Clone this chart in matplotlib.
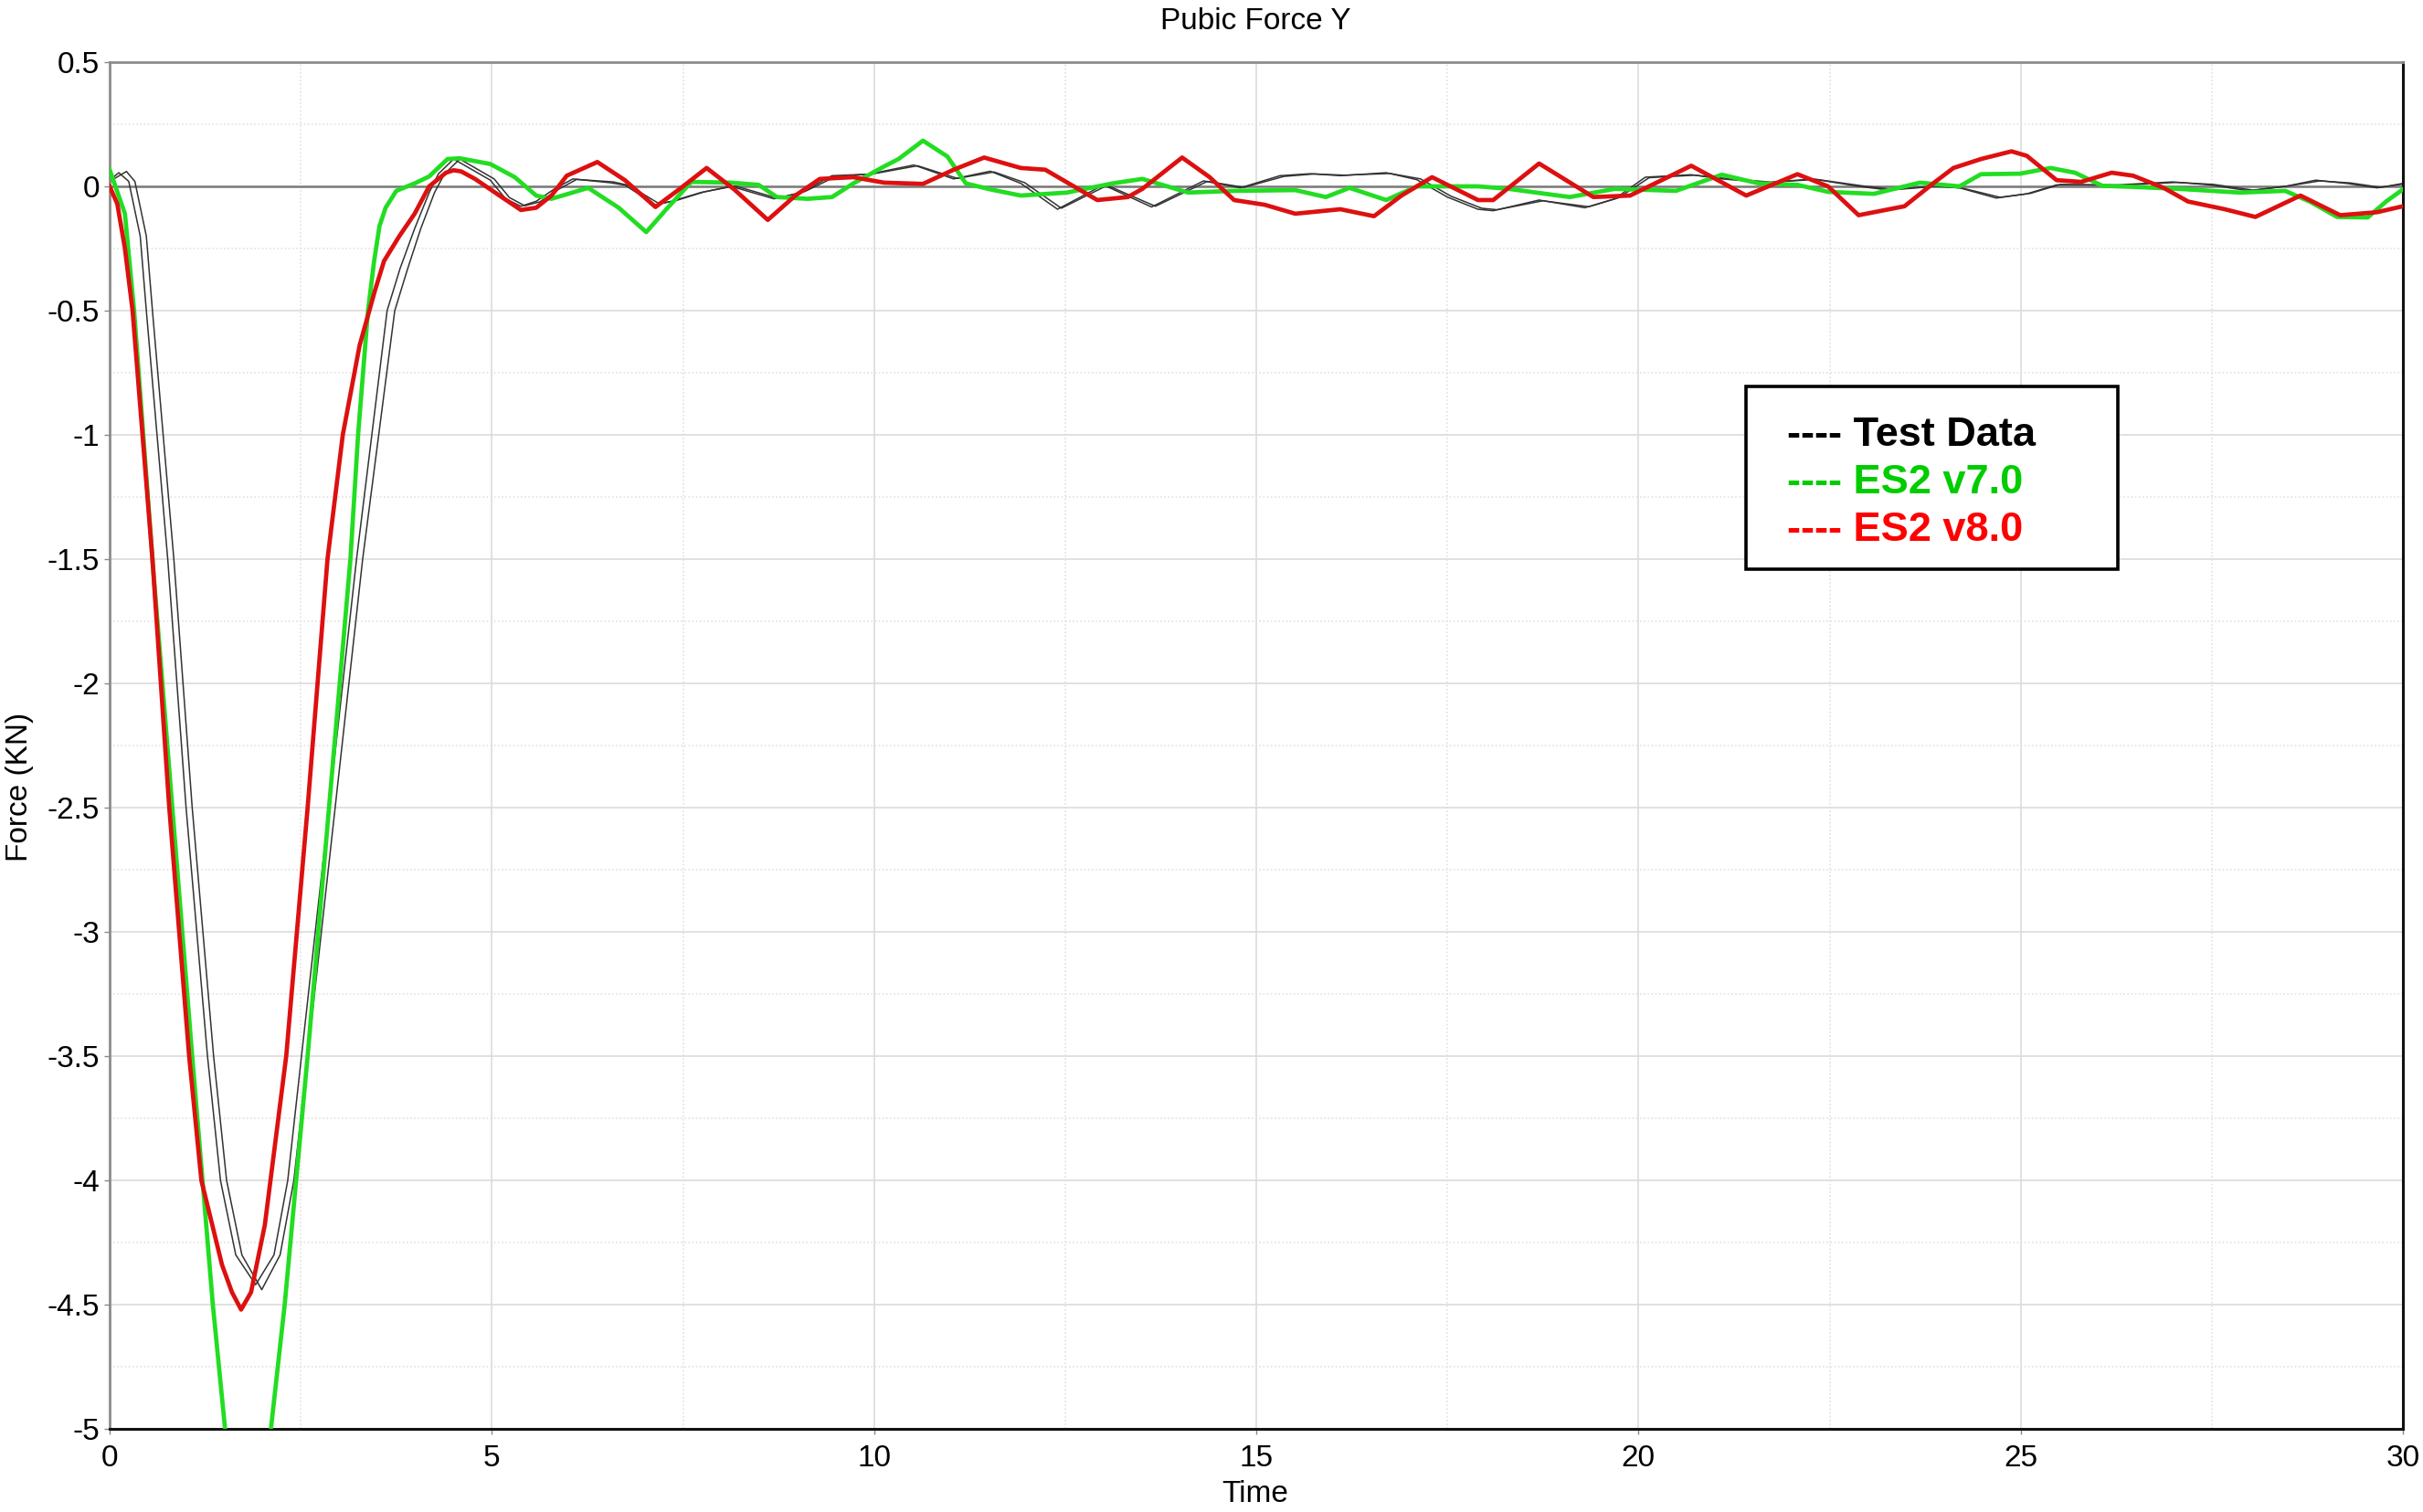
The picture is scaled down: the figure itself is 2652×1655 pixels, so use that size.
import matplotlib
matplotlib.use("Agg")
import matplotlib.pyplot as plt
from matplotlib.patches import Rectangle

plt.rcParams['font.family'] = ['Liberation Sans', 'DejaVu Sans']

# ---------------- data ----------------
test1_time = [0, 0.12, 0.25, 0.4, 0.48, 0.76, 1.0, 1.28, 1.45, 1.65, 1.91, 2.15, 2.33, 2.51,
              2.87, 3.23, 3.63, 3.8, 3.99, 4.18, 4.3, 4.5, 4.98, 5.18, 5.38, 5.58, 5.82, 6.06,
              6.54, 6.74, 7.14, 7.35, 7.73, 8.13, 8.69, 9.05, 9.45, 9.93, 10.52, 11.04, 11.52,
              11.92, 12.4, 13.0, 13.63, 14.31, 14.79, 15.31, 15.71, 16.1, 16.7, 17.1, 17.5,
              17.9, 18.1, 18.7, 19.3, 19.69, 20.09, 20.69, 21.09, 21.69, 22.28, 22.88, 23.28,
              23.88, 24.2, 24.68, 25.08, 25.47, 26.27, 26.99, 27.47, 27.99, 28.46, 28.86,
              29.26, 29.66, 30.0]
test1_force = [0.025, 0.055, 0.02, -0.2, -0.5, -1.5, -2.5, -3.5, -4.0, -4.3, -4.42, -4.3, -4.0,
               -3.5, -2.5, -1.5, -0.5, -0.33, -0.17, -0.025, 0.05, 0.11, 0.025, -0.05, -0.08,
               -0.06, -0.01, 0.03, 0.015, 0.005, -0.074, -0.06, -0.025, 0.0, -0.05, -0.025,
               0.043, 0.049, 0.086, 0.03, 0.061, 0.012, -0.092, 0.006, -0.083, 0.022, -0.006,
               0.043, 0.051, 0.043, 0.055, 0.027, -0.043, -0.092, -0.098, -0.055, -0.086,
               -0.05, 0.037, 0.047, 0.03, 0.015, 0.03, 0.0, -0.015, 0.0, -0.006, -0.047,
               -0.03, 0.006, 0.006, 0.018, 0.006, -0.018, 0.0, 0.025, 0.012, -0.006, 0.009]

test2_time = [0, 0.22, 0.33, 0.48, 0.56, 0.84, 1.08, 1.36, 1.53, 1.73, 1.99, 2.23, 2.41, 2.59,
              2.95, 3.31, 3.73, 3.9, 4.07, 4.25, 4.38, 4.58, 5.03, 5.23, 5.43, 5.63, 5.87, 6.11,
              6.59, 6.79, 7.19, 7.4, 7.78, 8.18, 8.74, 9.1, 9.5, 9.98, 10.57, 11.09, 11.57,
              11.97, 12.45, 13.05, 13.68, 14.36, 14.84, 15.36, 15.76, 16.15, 16.75, 17.15,
              17.55, 17.95, 18.15, 18.75, 19.35, 19.74, 20.14, 20.74, 21.14, 21.74, 22.33,
              22.93, 23.33, 23.93, 24.25, 24.73, 25.13, 25.52, 26.32, 27.04, 27.52, 28.04,
              28.51, 28.91, 29.31, 29.71, 30.0]
test2_force = [0.02, 0.06, 0.02, -0.2, -0.5, -1.5, -2.5, -3.5, -4.0, -4.3, -4.44, -4.3, -4.0,
               -3.5, -2.5, -1.5, -0.5, -0.33, -0.17, -0.025, 0.05, 0.11, 0.03, -0.045, -0.078,
               -0.062, -0.012, 0.028, 0.018, 0.004, -0.07, -0.058, -0.022, 0.002, -0.048, -0.02,
               0.04, 0.05, 0.083, 0.032, 0.058, 0.015, -0.088, 0.004, -0.08, 0.02, -0.004,
               0.04, 0.05, 0.045, 0.052, 0.03, -0.04, -0.088, -0.094, -0.058, -0.082,
               -0.046, 0.035, 0.045, 0.032, 0.017, 0.028, 0.002, -0.012, 0.002, -0.008, -0.044,
               -0.028, 0.008, 0.004, 0.016, 0.008, -0.015, 0.002, 0.022, 0.014, -0.004, 0.012]

es2v7_time = [0, 0.2, 0.32, 0.56, 0.82, 1.08, 1.35, 1.51, 1.81, 2.11, 2.29, 2.59, 2.87, 3.15,
              3.25, 3.38, 3.46, 3.53, 3.61, 3.75, 3.99, 4.18, 4.42, 4.58, 4.98, 5.3, 5.58,
              5.78, 6.0, 6.26, 6.66, 7.02, 7.3, 7.61, 8.13, 8.49, 8.73, 9.13, 9.45, 9.73,
              10.13, 10.32, 10.64, 10.96, 11.2, 11.52, 11.92, 12.52, 13.12, 13.51, 14.11,
              14.71, 15.51, 15.91, 16.22, 16.7, 17.1, 17.9, 18.3, 19.1, 19.69, 20.49, 21.09,
              21.57, 22.08, 22.48, 23.08, 23.68, 24.2, 24.48, 24.99, 25.39, 25.71, 26.07,
              26.47, 27.07, 27.87, 28.46, 28.78, 29.14, 29.54, 29.78, 30.0]
es2v7_force = [0.067, -0.11, -0.5, -1.5, -2.5, -3.5, -4.5, -5.0, -5.9, -5.0, -4.5, -3.5, -2.5,
               -1.5, -1.0, -0.5, -0.3, -0.16, -0.086, -0.018, 0.012, 0.04, 0.11, 0.113, 0.09,
               0.037, -0.037, -0.05, -0.03, -0.006, -0.086, -0.184, -0.086, 0.018, 0.015,
               0.006, -0.043, -0.05, -0.043, 0.012, 0.08, 0.11, 0.184, 0.12, 0.012, -0.012,
               -0.037, -0.025, 0.012, 0.03, -0.025, -0.018, -0.015, -0.043, -0.006, -0.055,
               0.0, 0.0, -0.01, -0.043, -0.01, -0.018, 0.047, 0.012, 0.006, -0.022, -0.03,
               0.015, 0.0, 0.049, 0.051, 0.074, 0.055, 0.002, -0.002, -0.01, -0.025, -0.018,
               -0.061, -0.123, -0.125, -0.061, -0.012]

es2v8_time = [0, 0.1, 0.2, 0.3, 0.56, 0.78, 1.04, 1.2, 1.47, 1.6, 1.72, 1.85, 2.03, 2.31, 2.59,
              2.85, 3.05, 3.27, 3.47, 3.59, 3.79, 3.99, 4.18, 4.4, 4.5, 4.6, 4.78, 5.1, 5.38,
              5.58, 5.78, 5.98, 6.38, 6.74, 7.14, 7.45, 7.81, 8.17, 8.61, 8.97, 9.29, 9.73,
              10.13, 10.64, 11.04, 11.44, 11.92, 12.24, 12.92, 13.32, 13.51, 14.03, 14.39,
              14.71, 15.11, 15.51, 16.1, 16.54, 16.9, 17.3, 17.9, 18.1, 18.7, 19.41, 19.89,
              20.69, 21.41, 22.08, 22.48, 22.88, 23.48, 23.88, 24.12, 24.48, 24.88, 25.08,
              25.47, 25.79, 26.19, 26.47, 26.87, 27.19, 27.67, 28.07, 28.66, 29.18, 29.66, 30.0]
es2v8_force = [0.0, -0.07, -0.25, -0.5, -1.5, -2.5, -3.5, -4.0, -4.34, -4.45, -4.52, -4.45,
               -4.18, -3.5, -2.5, -1.5, -1.0, -0.64, -0.42, -0.3, -0.2, -0.11, 0.0, 0.055,
               0.065, 0.06, 0.03, -0.037, -0.095, -0.086, -0.037, 0.043, 0.098, 0.025, -0.083,
               -0.012, 0.074, -0.012, -0.135, -0.037, 0.03, 0.037, 0.015, 0.01, 0.067, 0.116,
               0.074, 0.067, -0.055, -0.043, -0.01, 0.116, 0.037, -0.055, -0.074, -0.11,
               -0.092, -0.12, -0.037, 0.037, -0.055, -0.055, 0.092, -0.043, -0.037, 0.083,
               -0.037, 0.049, 0.0, -0.116, -0.08, 0.018, 0.074, 0.11, 0.141, 0.123, 0.025,
               0.018, 0.055, 0.043, -0.006, -0.061, -0.092, -0.123, -0.037, -0.116, -0.104,
               -0.08]

x_ticks = [0, 5, 10, 15, 20, 25, 30]
y_ticks = [0.5, 0, -0.5, -1, -1.5, -2, -2.5, -3, -3.5, -4, -4.5, -5]
legend_labels = ["---- Test Data", "---- ES2 v7.0", "---- ES2 v8.0"]
title_text = "Pubic Force Y"
x_label = "Time"
y_label = "Force (KN)"

# ---------------- figure ----------------
W, H = 2652, 1655
fig = plt.figure(figsize=(W / 100, H / 100), dpi=100)
ax = fig.add_axes([120 / W, 1 - 1564 / H, (2630 - 120) / W, (1564 - 68) / H])

ax.set_xlim(0, 30)
ax.set_ylim(-5, 0.5)
ax.set_xticks(x_ticks)
ax.set_yticks(y_ticks)
ax.set_xticklabels([str(v) for v in x_ticks])
ax.set_yticklabels([("%g" % v) for v in y_ticks])
ax.set_xticks([2.5, 7.5, 12.5, 17.5, 22.5, 27.5], minor=True)
ax.set_yticks([0.25 - 0.5 * i for i in range(11)], minor=True)

ax.grid(True, which='major', color='#dcdcdc', linewidth=1.2, linestyle='-')
ax.grid(True, which='minor', color='#e2e2e2', linewidth=1.2, linestyle=(0, (1, 1.5)))
ax.set_axisbelow(True)

ax.tick_params(axis='both', which='major', labelsize=24, length=4, width=1,
               color='#888888', pad=4)
ax.tick_params(axis='x', which='major', pad=8)
ax.tick_params(axis='both', which='minor', length=0)

for side in ['top', 'left']:
    ax.spines[side].set_color('#8c8c8c')
    ax.spines[side].set_linewidth(2)
for side in ['bottom', 'right']:
    ax.spines[side].set_color('#111111')
    ax.spines[side].set_linewidth(2.2)

ax.axhline(0, color='#7a7a7a', linewidth=1.8, zorder=1.5)

ax.plot(test1_time, test1_force, color='#333333', linewidth=1.1, zorder=2)
ax.plot(test2_time, test2_force, color='#333333', linewidth=1.1, zorder=2)
ax.plot(es2v7_time, es2v7_force, color='#22dd22', linewidth=3.4, zorder=3,
        solid_joinstyle='round')
ax.plot(es2v8_time, es2v8_force, color='#dd1010', linewidth=3.4, zorder=4,
        solid_joinstyle='round')

# titles / labels
fig.text(1374 / W, 1 - 24 / H, title_text, ha='center', va='center', fontsize=24)
fig.text(1374 / W, 1 - 1636 / H, x_label, ha='center', va='center', fontsize=24)
fig.text(22 / W, 1 - 861 / H, y_label, ha='center', va='center', fontsize=24,
         rotation=90)

# legend box
box = Rectangle((1911 / W, 1 - 623 / H), (2318 - 1911) / W, (623 - 423) / H,
                transform=fig.transFigure, facecolor='white', edgecolor='black',
                linewidth=2.6, zorder=10, clip_on=False)
ax.add_artist(box)
legend_colors = ['#000000', '#00cc00', '#ff0000']
legend_y = [477, 529, 581]
for lab, col, yy in zip(legend_labels, legend_colors, legend_y):
    ax.text(1956 / W, 1 - yy / H, lab, transform=fig.transFigure, color=col,
            fontsize=32.5, fontweight='bold', ha='left', va='center', zorder=11)

fig.savefig("out.png", dpi=100, facecolor='white')
